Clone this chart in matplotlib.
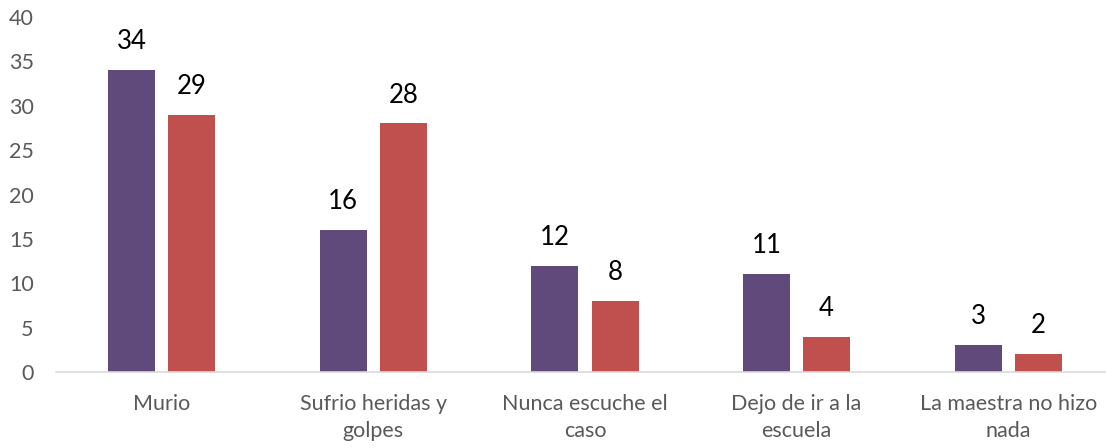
import matplotlib.pyplot as plt
import numpy as np

categories = ['Murio', 'Sufrio heridas y\ngolpes', 'Nunca escuche el\ncaso',
              'Dejo de ir a la\nescuela', 'La maestra no hizo\nnada']
serie_1 = [34, 16, 12, 11, 3]
serie_2 = [29, 28, 8, 4, 2]

plt.rcParams['font.family'] = ['Lato', 'DejaVu Sans']

fig = plt.figure(figsize=(11.06, 4.48), dpi=100)
ax = fig.add_axes([56 / 1106, 1 - 372 / 448, 1058 / 1106, (372 - 17) / 448])

x = np.arange(len(categories))
w = 0.222
off = 0.142
b1 = ax.bar(x - off, serie_1, w, color='#604A7B')
b2 = ax.bar(x + off, serie_2, w, color='#C0504D')

for bars, vals in ((b1, serie_1), (b2, serie_2)):
    for b, v in zip(bars, vals):
        ax.text(b.get_x() + b.get_width() / 2, v + 1.8, str(v),
                ha='center', va='bottom', fontsize=18.5, color='black')

ax.set_xlim(-0.5, len(categories) - 0.5)
ax.set_ylim(0, 40)
ax.set_yticks(range(0, 41, 5))
ax.set_xticks(x)
ax.set_xticklabels(categories, fontsize=15.5, color='#595959', linespacing=1.45)
ax.tick_params(axis='y', labelsize=15.5, labelcolor='#595959', length=0, pad=16)
ax.tick_params(axis='x', length=0, pad=16)

for s in ('top', 'right', 'left'):
    ax.spines[s].set_visible(False)
ax.spines['bottom'].set_color('#D9D9D9')
ax.spines['bottom'].set_linewidth(1.2)

fig.savefig('out.png', dpi=100)
